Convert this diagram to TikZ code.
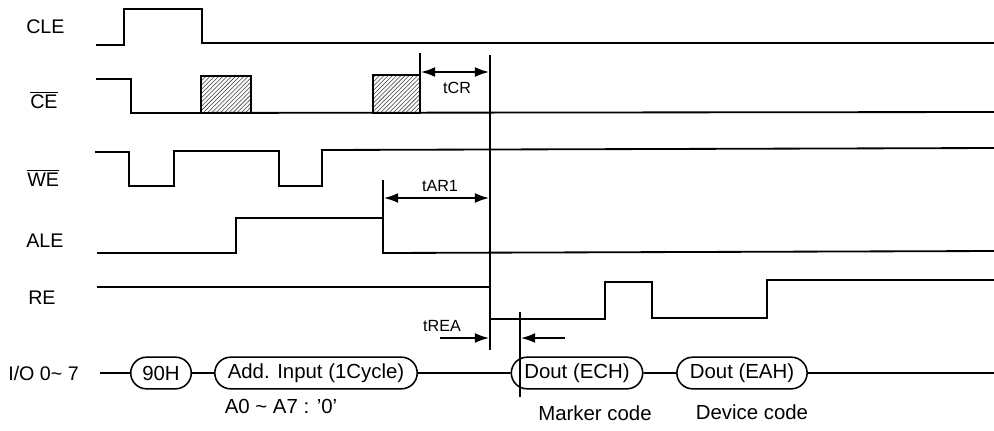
\documentclass[tikz,border=0pt]{standalone}
\usepackage{fontspec}
\setmainfont{Liberation Sans}
\usetikzlibrary{arrows.meta,patterns,shapes.misc}

\tikzset{
  sig/.style={line width=1.3pt},
  sigtext/.style={anchor=west, inner sep=0pt, font=\fontsize{14}{16}\selectfont},
  note/.style={font=\fontsize{14.5}{16}\selectfont},
  timetext/.style={font=\fontsize{11.5}{13}\selectfont},
  busbox/.style={draw, line width=1.1pt, rounded rectangle, inner xsep=7pt, inner ysep=4pt,
    minimum height=22.5pt, font=\fontsize{14.5}{16}\selectfont},
  hatchbox/.style={sig, pattern=north east lines, pattern color=black!75},
  dimarrow/.style={line width=1.1pt, {Latex[length=10pt,width=7pt]}-{Latex[length=10pt,width=7pt]}},
  onearrow/.style={line width=1.1pt, -{Latex[length=10pt,width=7pt]}},
}

\begin{document}
\begin{tikzpicture}[x=0.025cm, y=-0.025cm]
  \useasboundingbox (0,0) rectangle (994,430);

  \node[sigtext] (cle) at (26,27) {CLE};
  \node[sigtext] (ce) at (30,100) {$\overline{\mbox{CE}}$};
  \node[sigtext] (we) at (27,178) {$\overline{\mbox{WE}}$};
  \node[sigtext] (ale) at (26,241) {ALE};
  \node[sigtext] (re) at (28,298) {RE};
  \node[sigtext] (io) at (8,373) {I/O 0\textasciitilde\ 7};

  \draw[sig] (96,45) -- (124,45) -- (124,9) -- (202,9) -- (202,43) -- (994,43);
  \draw[sig] (96,79) -- (131,79) -- (131,113) -- (994,112);
  \draw[hatchbox] (201,76) rectangle (251,113);
  \draw[hatchbox] (373,75) rectangle (420,113);
  \draw[sig] (95,152) -- (129,152) -- (129,186) -- (174,186) -- (174,151)
    -- (279,151) -- (279,186) -- (322,186) -- (322,150) -- (994,148);
  \draw[sig] (97,253) -- (236,253) -- (236,218) -- (383,218) -- (383,253) -- (994,251);
  \draw[sig] (97,287) -- (490,287) -- (490,319) -- (605,319) -- (605,282)
    -- (652,282) -- (652,318) -- (767,318) -- (767,280) -- (994,280);

  \draw[sig] (420,53) -- (420,76);
  \draw[sig] (490,55) -- (490,350);
  \draw[sig] (383,180) -- (383,218);
  \draw[sig] (520,312) -- (520,397);

  \draw[dimarrow] (421,72) -- (489,72);
  \node[timetext] (tcr) at (457,88) {tCR};
  \draw[dimarrow] (384,198) -- (489,198);
  \node[timetext] (tar) at (440,186) {tAR1};
  \draw[onearrow] (440,338) -- (489,338);
  \draw[onearrow] (565,338) -- (521,338);
  \node[timetext] (trea) at (442,326) {tREA};

  \node[busbox] (h90) at (161,373) {90H};
  \node[busbox] (addr) at (316,373) {Add. Input (1Cycle)};
  \node[busbox] (ech) at (577,373) {Dout (ECH)};
  \node[busbox] (eah) at (742,373) {Dout (EAH)};
  \coordinate (busl) at (100,373);
  \coordinate (busr) at (994,373);
  \draw[sig] (busl) -- (h90) -- (addr) -- (ech) -- (eah) -- (busr);

  \node[note] (addrnote) at (281,406) {A0 \textasciitilde{} A7 : '0'};
  \node[note] (marker) at (595,413) {Marker code};
  \node[note] (device) at (752,412) {Device code};
\end{tikzpicture}
\end{document}
